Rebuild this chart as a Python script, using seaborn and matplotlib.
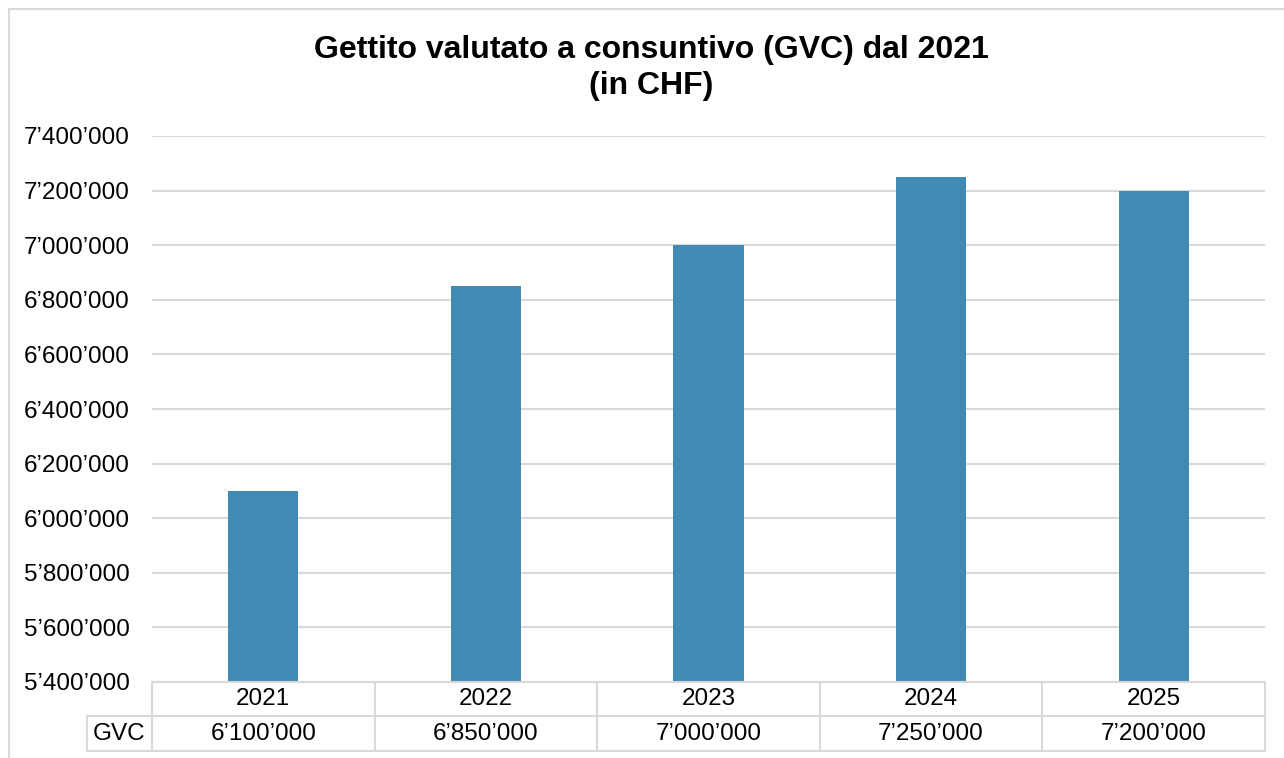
import matplotlib
matplotlib.use("Agg")
import matplotlib.pyplot as plt
import seaborn as sns
import pandas as pd
from matplotlib.ticker import FuncFormatter, MultipleLocator
from matplotlib.patches import Rectangle
import matplotlib.transforms as mtransforms

years = ["2021", "2022", "2023", "2024", "2025"]
gvc = [6100000, 6850000, 7000000, 7250000, 7200000]
series_name = "GVC"
title = "Gettito valutato a consuntivo (GVC) dal 2021\n(in CHF)"

sns.set_theme(style="white")
plt.rcParams["font.family"] = ["Liberation Sans", "DejaVu Sans"]

def fmt(v):
    return f"{int(round(v)):,}".replace(",", "\u2019")

df = pd.DataFrame({"year": years, "value": gvc})

fig = plt.figure(figsize=(12.84, 7.58), dpi=100)
W, H = 1284, 758
ax = fig.add_axes([152 / W, 1 - 682 / H, (1265 - 152) / W, (682 - 136) / H])

sns.barplot(data=df, x="year", y="value", color="#418AB3", saturation=1,
            width=0.315, ax=ax, zorder=3, linewidth=0, edgecolor="none")

ax.set_ylim(5400000, 7400000)
ax.yaxis.set_major_locator(MultipleLocator(200000))
ax.yaxis.set_major_formatter(FuncFormatter(lambda v, p: fmt(v)))
ax.grid(axis="y", color="#d9d9d9", linewidth=1.5, zorder=0)
ax.grid(axis="x", visible=False)
for s in ax.spines.values():
    s.set_visible(False)
ax.set_xlabel("")
ax.set_ylabel("")
ax.set_xticks(range(len(years)))
ax.set_xticklabels([])
ax.tick_params(axis="x", length=0)
ax.tick_params(axis="y", length=0, labelsize=17.5, pad=16, labelcolor="black")
ax.set_xlim(-0.5, len(years) - 0.5)

# data table below axes
tcol = "#d9d9d9"
lw = 1.5
ppx = 1 / (682 - 136)  # axes-fraction per pixel vertically
y_row1 = -(716 - 682) * ppx
y_row2 = -(751 - 682) * ppx
x_lab = -(152 - 87) / (1265 - 152)
trans_b = mtransforms.blended_transform_factory(ax.transData, ax.transAxes)
ta = ax.transAxes
kw = dict(color=tcol, lw=lw, clip_on=False, zorder=5)
ax.plot([0, 1], [0, 0], transform=ta, **kw)
ax.plot([x_lab, 1], [y_row1, y_row1], transform=ta, **kw)
ax.plot([x_lab, 1], [y_row2, y_row2], transform=ta, **kw)
ax.plot([x_lab, x_lab], [y_row1, y_row2], transform=ta, **kw)
for k in range(len(years) + 1):
    ax.plot([k - 0.5, k - 0.5], [0, y_row2], transform=trans_b, **kw)
for i, (yr, v) in enumerate(zip(years, gvc)):
    ax.text(i, y_row1 / 2, yr, transform=trans_b, ha="center", va="center",
            fontsize=17.5, color="black")
    ax.text(i, (y_row1 + y_row2) / 2, fmt(v), transform=trans_b, ha="center",
            va="center", fontsize=17.5, color="black")
ax.text(x_lab / 2, (y_row1 + y_row2) / 2, series_name, transform=ta,
        ha="center", va="center", fontsize=17.5, color="black")

fig.text(651 / W, 1 - 68 / H, title, ha="center", va="center",
         fontsize=23, fontweight="bold", linespacing=1.25, color="black")

# chart frame
fig.patches.append(Rectangle((9 / W, -0.1), 1.2, 1 - 9 / H + 0.1,
                             transform=fig.transFigure, fill=False,
                             edgecolor="#d9d9d9", linewidth=1.5))

fig.savefig("out.png", dpi=100, facecolor="white")
